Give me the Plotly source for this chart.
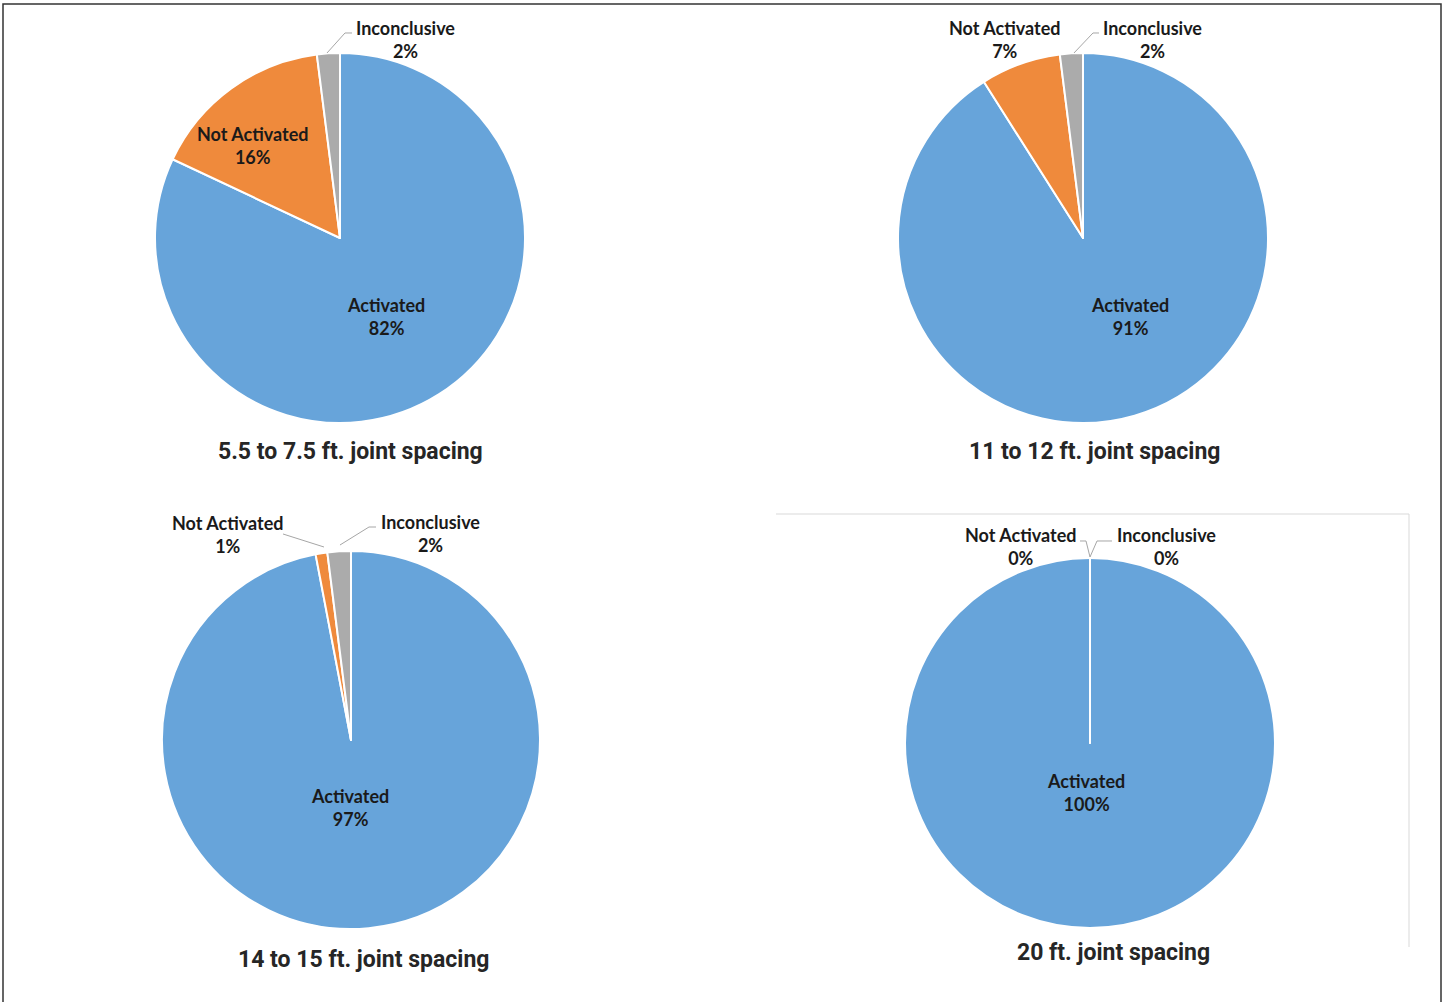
import plotly.graph_objects as go

W, H = 1445, 1002

# Outcome categories and their shares (%) for each joint-spacing group
categories = ["Activated", "Not Activated", "Inconclusive"]
titles = [
    "5.5 to 7.5 ft. joint spacing",
    "11 to 12 ft. joint spacing",
    "14 to 15 ft. joint spacing",
    "20 ft. joint spacing",
]
values_55_75 = [82, 16, 2]
values_11_12 = [91, 7, 2]
values_14_15 = [97, 1, 2]
values_20 = [100, 0, 0]
series = [values_55_75, values_11_12, values_14_15, values_20]

colors = ["#67A4DA", "#EF8A3C", "#ABABAB"]
LABEL_FONT = dict(family="Lato, 'Open Sans', sans-serif", size=18, color="#1a1a1a")
TITLE_FONT = dict(family="Roboto, 'Liberation Sans', Arial, sans-serif", size=23, color="#262626")


def fx(x):
    return x / W


def fy(y):
    return 1 - y / H


# pie geometry in pixels: centre x, centre y, radius
geom = [(340, 238, 185), (1083, 238, 185), (351, 740, 189), (1090, 743, 185)]

# label anchor positions (pixel centres) per pie, per category
label_pos = [
    [(386, 316), (252, 146), (406, 40)],
    [(1130, 316), (1004, 40), (1152, 40)],
    [(350, 807), (227, 534), (430, 533)],
    [(1086, 792), (1020, 546), (1166, 546)],
]
title_pos = [(350, 452), (1094, 452), (363, 959), (1113, 952)]

# leader lines (pixel paths) for the small outside labels
leaders = [
    ["M 327 53 L 345 33 L 352 33"],
    ["M 1074 53 L 1093 33 L 1099 33"],
    ["M 324 547 L 283 534", "M 340 545 L 369 527 L 376 527"],
    ["M 1080 541 L 1086 541 L 1090 557", "M 1090 557 L 1097 541 L 1112 541"],
]

fig = go.Figure()
annotations = []
shapes = []

for i, (vals, (cx, cy, r)) in enumerate(zip(series, geom)):
    fig.add_trace(go.Pie(
        labels=categories,
        values=vals,
        sort=False,
        direction="clockwise",
        rotation=0,
        textinfo="none",
        marker=dict(colors=colors, line=dict(color="white", width=2)),
        domain=dict(x=[fx(cx - r), fx(cx + r)], y=[fy(cy + r), fy(cy - r)]),
        showlegend=False,
        hoverinfo="label+percent",
    ))
    for cat, v, (lx, ly) in zip(categories, vals, label_pos[i]):
        annotations.append(dict(
            x=fx(lx), y=fy(ly), xref="paper", yref="paper",
            text=f"<b>{cat}</b><br><b>{v}%</b>", showarrow=False,
            font=LABEL_FONT, xanchor="center", yanchor="middle", align="center",
        ))
    tx, ty = title_pos[i]
    annotations.append(dict(
        x=fx(tx), y=fy(ty), xref="paper", yref="paper",
        text=f"<b>{titles[i]}</b>", showarrow=False, font=TITLE_FONT,
        xanchor="center", yanchor="middle",
    ))
    for p in leaders[i]:
        pts = p.replace("M", "").split("L")
        coords = []
        for pt in pts:
            a, b = pt.split()
            coords.append(f"{fx(float(a)):.5f},{fy(float(b)):.5f}")
        path = "M " + " L ".join(coords)
        shapes.append(dict(type="path", path=path, xref="paper", yref="paper",
                           line=dict(color="#A6A6A6", width=1)))

# radial white seam at 12 o'clock on the full pie
cx, cy, r = geom[3]
shapes.append(dict(type="line", xref="paper", yref="paper",
                   x0=fx(cx), y0=fy(cy), x1=fx(cx), y1=fy(cy - r),
                   line=dict(color="white", width=2)))

# light frame around the last chart
shapes.append(dict(type="path", xref="paper", yref="paper",
                   path=f"M {fx(776)},{fy(514)} L {fx(1409)},{fy(514)} L {fx(1409)},{fy(947)}",
                   line=dict(color="#D9D9D9", width=1)))

# outer border (left, top, right)
shapes.append(dict(type="path", xref="paper", yref="paper",
                   path=f"M {fx(3)},{fy(1002)} L {fx(3)},{fy(4)} L {fx(1441)},{fy(4)} L {fx(1441)},{fy(1002)}",
                   line=dict(color="#333333", width=1.5)))

fig.update_layout(
    width=W, height=H,
    margin=dict(l=0, r=0, t=0, b=0),
    paper_bgcolor="white", plot_bgcolor="white",
    annotations=annotations, shapes=shapes,
)

fig.write_html("out.html")
